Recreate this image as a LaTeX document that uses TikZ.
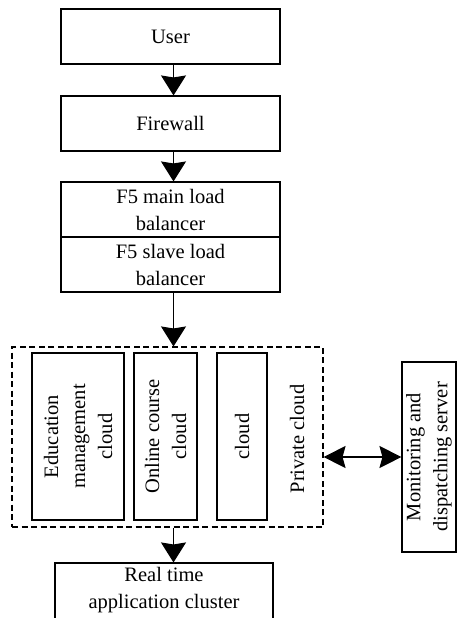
\documentclass[tikz,border=0pt]{standalone}
\usepackage{fontspec}
\setmainfont{Liberation Serif}
\usetikzlibrary{arrows.meta}
\begin{document}
\begin{tikzpicture}[x=1pt,y=-1pt,
  every node/.style={font=\fontsize{20.5}{27}\selectfont, inner sep=0pt, align=center},
  box/.style={draw, line width=1.1pt, rectangle},
  arr/.style={line width=1.1pt, -{Stealth[length=20pt,width=25pt,inset=2pt]}},
  darr/.style={line width=1.1pt, {Stealth[length=22pt,width=22pt,inset=3pt]}-{Stealth[length=22pt,width=22pt,inset=3pt]}}
]
\useasboundingbox (0,0) rectangle (457,618);
\clip (0,0) rectangle (457,618);
% top chain
\node[box, minimum width=219pt, minimum height=55pt] (user) at (170.5,36.5) {User};
\node[box, minimum width=219pt, minimum height=55pt] (fw) at (170.5,123.5) {Firewall};
\node[box, minimum width=219pt, minimum height=55pt] (f5m) at (170.5,209.5) {F5 main load\\balancer};
\node[box, minimum width=219pt, minimum height=55pt] (f5s) at (170.5,264.5) {F5 slave load\\balancer};
% private cloud
\node[draw, line width=1.1pt, dash pattern=on 6pt off 3.5pt, minimum width=311pt, minimum height=180pt] (priv) at (167.5,437) {};
\node[box, rotate=90, minimum width=167pt, minimum height=92pt] (edu) at (78,436.5) {Education\\management\\cloud};
\node[box, rotate=90, minimum width=167pt, minimum height=63pt] (onl) at (165.5,436.5) {Online course\\cloud};
\node[box, rotate=90, minimum width=167pt, minimum height=50pt] (cld) at (242,436.5) {cloud};
\node[rotate=90] (privlbl) at (297,439) {Private cloud};
% monitoring
\node[box, rotate=90, minimum width=190pt, minimum height=54pt] (mon) at (429,457) {Monitoring and\\dispatching server};
% real time
\node[box, minimum width=218pt, minimum height=60pt] (rt) at (164,593) {};
\node (rttext) at (164,590) {Real time\\application cluster};
% arrow axis
\coordinate (ax) at (173.5,0);
\draw[arr] (user.south -| ax) -- (fw.north -| ax);
\draw[arr] (fw.south -| ax) -- (f5m.north -| ax);
\draw[arr] (f5s.south -| ax) -- (priv.north -| ax);
\draw[arr] (priv.south -| ax) -- (rt.north -| ax);
\draw[darr] (mon.north -| priv.east) -- (mon.north);
\end{tikzpicture}
\end{document}
